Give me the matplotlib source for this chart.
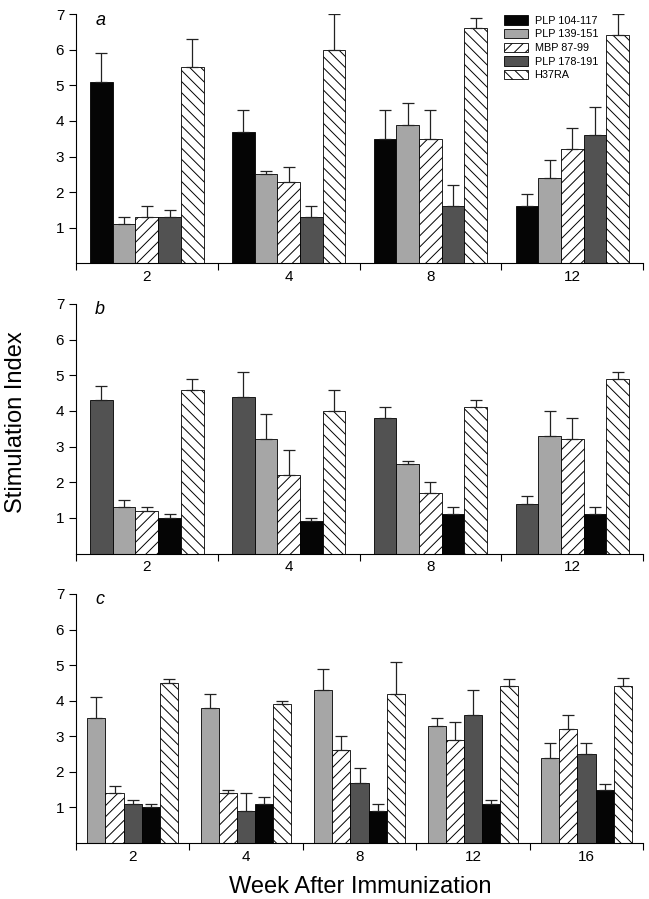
import numpy as np
import matplotlib
matplotlib.use("Agg")
from matplotlib import pyplot as plt

plt.rcParams['font.family'] = ['Liberation Sans', 'DejaVu Sans']
plt.rcParams['hatch.linewidth'] = 0.7

# donnees (valeur moyenne, haut de la barre d'erreur)
weeks_ab = ['2', '4', '8', '12']
weeks_c = ['2', '4', '8', '12', '16']

# panneau a : ordre PLP104, PLP139, MBP, PLP178, H37RA
a_mean = {
    'PLP 104-117': [5.1, 3.7, 3.5, 1.6],
    'PLP 139-151': [1.1, 2.5, 3.9, 2.4],
    'MBP 87-99': [1.3, 2.3, 3.5, 3.2],
    'PLP 178-191': [1.3, 1.3, 1.6, 3.6],
    'H37RA': [5.5, 6.0, 6.6, 6.4],
}
a_top = {
    'PLP 104-117': [5.9, 4.3, 4.3, 1.95],
    'PLP 139-151': [1.3, 2.6, 4.5, 2.9],
    'MBP 87-99': [1.6, 2.7, 4.3, 3.8],
    'PLP 178-191': [1.5, 1.6, 2.2, 4.4],
    'H37RA': [6.3, 7.0, 6.9, 7.0],
}
a_order = ['PLP 104-117', 'PLP 139-151', 'MBP 87-99', 'PLP 178-191', 'H37RA']

# panneau b : ordre PLP178, PLP139, MBP, PLP104, H37RA
b_mean = {
    'PLP 178-191': [4.3, 4.4, 3.8, 1.4],
    'PLP 139-151': [1.3, 3.2, 2.5, 3.3],
    'MBP 87-99': [1.2, 2.2, 1.7, 3.2],
    'PLP 104-117': [1.0, 0.9, 1.1, 1.1],
    'H37RA': [4.6, 4.0, 4.1, 4.9],
}
b_top = {
    'PLP 178-191': [4.7, 5.1, 4.1, 1.6],
    'PLP 139-151': [1.5, 3.9, 2.6, 4.0],
    'MBP 87-99': [1.3, 2.9, 2.0, 3.8],
    'PLP 104-117': [1.1, 1.0, 1.3, 1.3],
    'H37RA': [4.9, 4.6, 4.3, 5.1],
}
b_order = ['PLP 178-191', 'PLP 139-151', 'MBP 87-99', 'PLP 104-117', 'H37RA']

# panneau c : ordre PLP139, MBP, PLP178, PLP104, H37RA
c_mean = {
    'PLP 139-151': [3.5, 3.8, 4.3, 3.3, 2.4],
    'MBP 87-99': [1.4, 1.4, 2.6, 2.9, 3.2],
    'PLP 178-191': [1.1, 0.9, 1.7, 3.6, 2.5],
    'PLP 104-117': [1.0, 1.1, 0.9, 1.1, 1.5],
    'H37RA': [4.5, 3.9, 4.2, 4.4, 4.4],
}
c_top = {
    'PLP 139-151': [4.1, 4.2, 4.9, 3.5, 2.8],
    'MBP 87-99': [1.6, 1.5, 3.0, 3.4, 3.6],
    'PLP 178-191': [1.2, 1.4, 2.1, 4.3, 2.8],
    'PLP 104-117': [1.1, 1.3, 1.1, 1.2, 1.65],
    'H37RA': [4.6, 4.0, 5.1, 4.6, 4.65],
}
c_order = ['PLP 139-151', 'MBP 87-99', 'PLP 178-191', 'PLP 104-117', 'H37RA']

style = {
    'PLP 104-117': dict(color='#050505', hatch=None),
    'PLP 139-151': dict(color='#a6a6a6', hatch=None),
    'MBP 87-99': dict(color='white', hatch='///'),
    'PLP 178-191': dict(color='#525252', hatch=None),
    'H37RA': dict(color='white', hatch='\\\\\\'),
}

fig = plt.figure(figsize=(6.49, 8.99), dpi=100)
left, width = 0.117, 0.874
ax_a = fig.add_axes([left, 0.7069, width, 0.2775])
ax_b = fig.add_axes([left, 0.3843, width, 0.2776])
ax_c = fig.add_axes([left, 0.0623, width, 0.2770])

def panneau(ax, weeks, order, means, tops, lettre):
    n = len(weeks)
    x = np.arange(n)
    w = 0.16
    for i, pep in enumerate(order):
        pos = x - 0.4 + w * (i + 0.5)
        m = np.array(means[pep])
        t = np.array(tops[pep])
        st = style[pep]
        ax.bar(pos, m, width=w, color=st['color'], hatch=st['hatch'],
               edgecolor='black', linewidth=0.6, label=pep, zorder=2)
        ax.errorbar(pos, m, yerr=[np.zeros(n), t - m], fmt='none',
                    ecolor='#222222', elinewidth=0.9, capsize=4, capthick=0.9,
                    zorder=3)
    ax.set_xlim(-0.5, n - 0.5)
    ax.set_ylim(0, 7)
    ax.set_yticks([1, 2, 3, 4, 5, 6, 7])
    ax.set_xticks(np.arange(n + 1) - 0.5)
    ax.set_xticklabels([])
    ax.set_xticks(x, minor=True)
    ax.set_xticklabels(weeks, minor=True)
    ax.tick_params(axis='x', which='minor', length=0, labelsize=11, pad=5)
    ax.tick_params(axis='x', which='major', length=5, direction='out', width=0.8)
    ax.tick_params(axis='y', length=5, direction='out', labelsize=11, width=0.8)
    ax.spines['top'].set_visible(False)
    ax.spines['right'].set_visible(False)
    ax.spines['left'].set_linewidth(0.8)
    ax.spines['bottom'].set_linewidth(0.8)
    ax.text(0.034, 0.958, lettre, transform=ax.transAxes, fontsize=13,
            style='italic', va='baseline', ha='left')

panneau(ax_a, weeks_ab, a_order, a_mean, a_top, 'a')
panneau(ax_b, weeks_ab, b_order, b_mean, b_top, 'b')
panneau(ax_c, weeks_c, c_order, c_mean, c_top, 'c')

handles, labels = ax_a.get_legend_handles_labels()
ax_a.legend(handles, labels, loc='upper left', bbox_to_anchor=(0.755, 0.995),
            frameon=False, handlelength=2.2, handleheight=0.95,
            labelspacing=0.3, handletextpad=0.6, borderpad=0, borderaxespad=0,
            fontsize=7.8)

fig.text(0.025, 0.5306, 'Stimulation Index', rotation=90, fontsize=17,
         va='center', ha='center')
fig.text(0.555, 0.0067, 'Week After Immunization', fontsize=17,
         va='baseline', ha='center')

plt.savefig('out.png', dpi=100)
